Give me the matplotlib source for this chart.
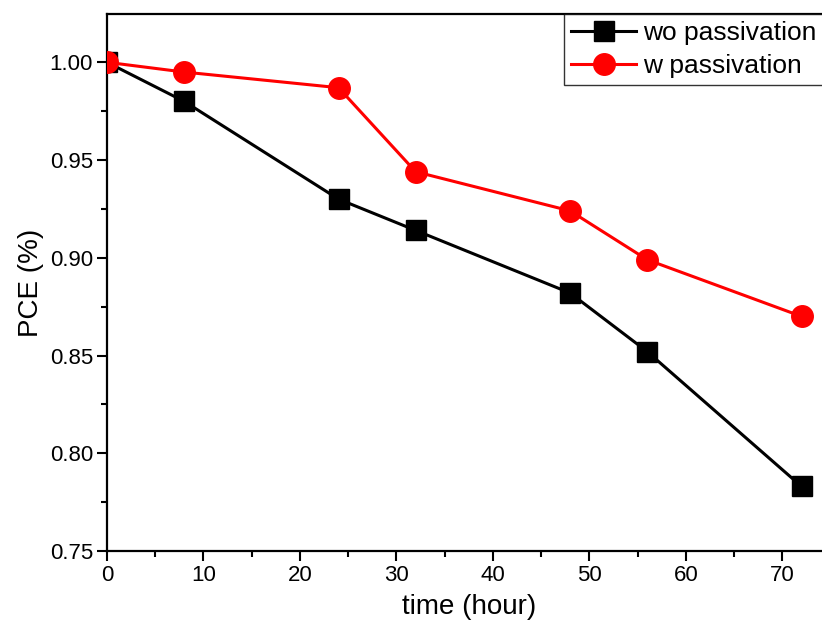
import matplotlib
matplotlib.use("Agg")
import matplotlib.pyplot as plt
from matplotlib.ticker import MultipleLocator, FormatStrFormatter

plt.rcParams['font.family'] = ['Liberation Sans', 'DejaVu Sans']

time_h = [0, 8, 24, 32, 48, 56, 72]
wo_passivation = [1.000, 0.980, 0.930, 0.914, 0.882, 0.852, 0.783]
w_passivation = [1.000, 0.995, 0.987, 0.944, 0.924, 0.899, 0.870]

W, H = 822, 634
fig = plt.figure(figsize=(W / 100, H / 100), dpi=100)
ax = fig.add_axes([107 / W, (H - 551) / H, 723.5 / W, 537 / H])

ax.plot(time_h, wo_passivation, color='black', lw=2.2, marker='s', ms=14.5,
        label='wo passivation', zorder=3)
ax.plot(time_h, w_passivation, color='#ff0000', lw=2.2, marker='o', ms=15.5,
        label='w passivation', zorder=4)

ax.set_xlim(0, 75)
ax.set_ylim(0.75, 1.0247)
ax.xaxis.set_major_locator(MultipleLocator(10))
ax.xaxis.set_minor_locator(MultipleLocator(5))
ax.yaxis.set_major_locator(MultipleLocator(0.05))
ax.yaxis.set_minor_locator(MultipleLocator(0.025))
ax.yaxis.set_major_formatter(FormatStrFormatter('%.2f'))

for s in ax.spines.values():
    s.set_linewidth(1.6)
ax.spines['right'].set_visible(False)
ax.tick_params(which='major', direction='out', length=7, width=1.5, labelsize=16, pad=3)
ax.tick_params(which='minor', direction='out', length=4, width=1.5)
ax.tick_params(top=False, right=False)

ax.set_xlabel('time (hour)', fontsize=20, labelpad=6)
ax.set_ylabel('PCE (%)', fontsize=20, labelpad=4)

leg = ax.legend(loc='upper left', bbox_to_anchor=(564 / W, 1 - 14 / H),
                bbox_transform=fig.transFigure, fontsize=19, frameon=True,
                fancybox=False, edgecolor='black', borderaxespad=0,
                handlelength=2.45, handletextpad=0.25, borderpad=0.28,
                labelspacing=0.32, markerscale=1.0)
leg.get_frame().set_linewidth(1.0)

fig.savefig('out.png', dpi=100)
